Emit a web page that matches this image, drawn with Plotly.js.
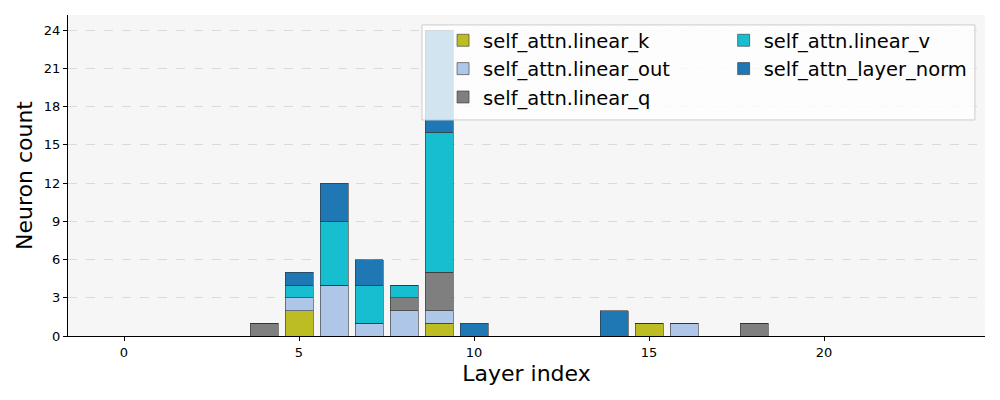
<!DOCTYPE html>
<html>
<head>
<meta charset="utf-8">
<script src="https://cdn.plot.ly/plotly-3.0.1.min.js"></script>
<style>html,body{margin:0;padding:0;background:#fff}#chart{width:1000px;height:400px}</style>
</head>
<body>
<div id="chart"></div>
<script>
const layers = [0,1,2,3,4,5,6,7,8,9,10,11,12,13,14,15,16,17,18,19,20,21,22,23];
const linearK    = [0,0,0,0,0,2,0,0,0,1,0,0,0,0,0,1,0,0,0,0,0,0,0,0];
const linearOut  = [0,0,0,0,0,1,4,1,2,1,0,0,0,0,0,0,1,0,0,0,0,0,0,0];
const linearQ    = [0,0,0,0,1,0,0,0,1,3,0,0,0,0,0,0,0,0,1,0,0,0,0,0];
const linearV    = [0,0,0,0,0,1,5,3,1,11,0,0,0,0,0,0,0,0,0,0,0,0,0,0];
const layerNorm  = [0,0,0,0,0,1,3,2,0,8,1,0,0,0,2,0,0,0,0,0,0,0,0,0];
const seriesNames = ["self_attn.linear_k","self_attn.linear_out","self_attn.linear_q","self_attn.linear_v","self_attn_layer_norm"];
const seriesValues = [linearK, linearOut, linearQ, linearV, layerNorm];
const seriesColors = ["#bcbd22","#aec7e8","#7f7f7f","#17becf","#1f77b4"];
const legendColumn = ["legend","legend","legend","legend2","legend2"];
const xTicks = [0,5,10,15,20];
const yTicks = [0,3,6,9,12,15,18,21,24];

const traces = seriesNames.map((n,i)=>({
  type:'bar', name:n, x:layers, y:seriesValues[i], width:0.8,
  legend: legendColumn[i],
  marker:{color:seriesColors[i], line:{color:'#333333', width:0.6}},
  hoverinfo:'x+y+name'
}));

const legendCommon = {
  orientation:'v', yanchor:'top', y:0.981, xanchor:'left',
  bgcolor:'rgba(0,0,0,0)', borderwidth:0,
  font:{size:19.5}, traceorder:'normal'
};

const layout = {
  width:1000, height:400,
  margin:{l:68, r:15, t:15, b:64},
  barmode:'stack',
  paper_bgcolor:'#ffffff',
  plot_bgcolor:'#f6f6f6',
  font:{family:'DejaVu Sans, sans-serif', color:'#000'},
  xaxis:{
    range:[-1.6,24.6], tickvals:xTicks, ticktext:xTicks.map(String),
    ticks:'outside', ticklen:4, tickcolor:'#000', showgrid:false, zeroline:false,
    showline:true, linecolor:'#000', linewidth:1,
    tickfont:{size:13},
    title:{text:'Layer index', font:{size:22}, standoff:7}
  },
  yaxis:{
    range:[0,25.2], tickvals:yTicks, ticktext:yTicks.map(String),
    ticks:'outside', ticklen:4, tickcolor:'#000',
    showgrid:true, gridcolor:'#d3d3d3', griddash:'dash', gridwidth:0.8, zeroline:false,
    showline:true, linecolor:'#000', linewidth:1,
    tickfont:{size:13},
    title:{text:'Neuron count', font:{size:22}, standoff:5}
  },
  legend: Object.assign({}, legendCommon, {x:0.409}),
  legend2: Object.assign({}, legendCommon, {x:0.715}),
  shapes:[{
    type:'rect', xref:'paper', yref:'paper', layer:'above',
    x0:0.386, x1:0.989, y0:0.673, y1:0.969,
    fillcolor:'rgba(255,255,255,0.8)', line:{color:'#cccccc', width:1}
  }],
  showlegend:true
};
Plotly.newPlot('chart', traces, layout, {displayModeBar:false, staticPlot:true});
</script>
</body>
</html>
